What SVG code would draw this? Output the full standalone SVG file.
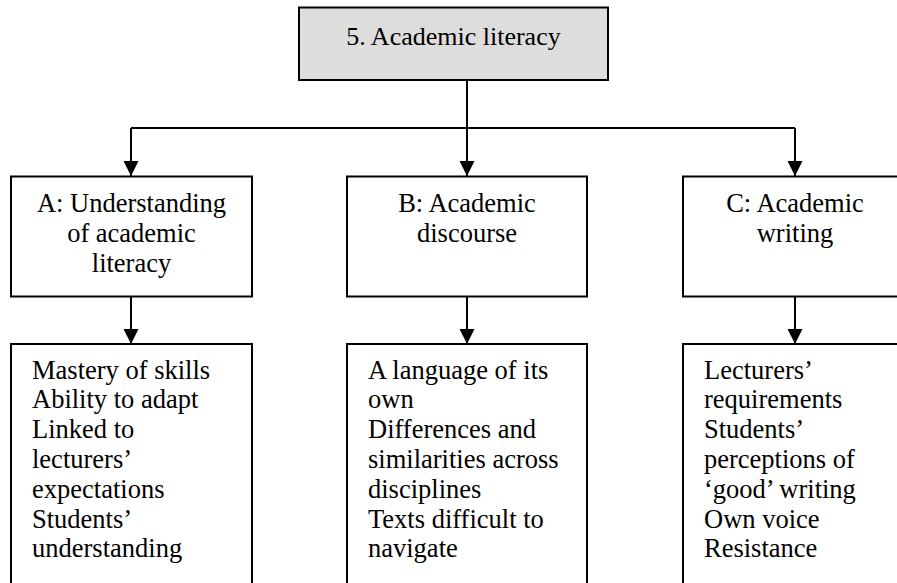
<svg xmlns="http://www.w3.org/2000/svg" width="897" height="583" viewBox="0 0 897 583">
<style>
.box{fill:#ffffff;stroke:#000000;stroke-width:2}
.top{fill:#dddddd;stroke:#000000;stroke-width:2}
.t{font-family:"Liberation Serif","Times New Roman",serif;font-size:26.5px;fill:#000000}
.c{text-anchor:middle}
.ln{fill:none;stroke:#000000;stroke-width:2}
</style>
<defs>
<marker id="ah" markerUnits="userSpaceOnUse" markerWidth="16" markerHeight="16" refX="15" refY="7.5" orient="auto">
<path d="M0,0 L15,7.5 L0,15 z" fill="#000000"/>
</marker>
</defs>
<rect width="897" height="583" fill="#ffffff"/>
<g id="connectors">
<path class="ln" d="M467,80 L467,128"/>
<path class="ln" d="M131,128 L795,128"/>
<path class="ln" d="M131,128 L131,176" marker-end="url(#ah)"/>
<path class="ln" d="M467,128 L467,176" marker-end="url(#ah)"/>
<path class="ln" d="M795,128 L795,176" marker-end="url(#ah)"/>
<path class="ln" d="M131,296 L131,344" marker-end="url(#ah)"/>
<path class="ln" d="M467,296 L467,344" marker-end="url(#ah)"/>
<path class="ln" d="M795,296 L795,344" marker-end="url(#ah)"/>
</g>
<g id="node-top">
<rect class="top" x="299" y="7.5" width="309" height="72.5"/>
<text class="t c" x="453.5" y="45" style="font-size:26px">5. Academic literacy</text>
</g>
<g id="node-A">
<rect class="box" x="11" y="176.5" width="241" height="120"/>
<text class="t c" x="131.5" y="212">A: Understanding</text>
<text class="t c" x="131.5" y="242">of academic</text>
<text class="t c" x="131.5" y="272">literacy</text>
</g>
<g id="node-B">
<rect class="box" x="347" y="176.5" width="240" height="120"/>
<text class="t c" x="467" y="212">B: Academic</text>
<text class="t c" x="467" y="242">discourse</text>
</g>
<g id="node-C">
<rect class="box" x="683" y="176.5" width="224" height="120"/>
<text class="t c" x="795" y="212">C: Academic</text>
<text class="t c" x="795" y="242">writing</text>
</g>
<g id="node-A-items">
<rect class="box" x="11" y="344" width="241" height="250"/>
<text class="t" x="32" y="378.5">Mastery of skills</text>
<text class="t" x="32" y="408.3">Ability to adapt</text>
<text class="t" x="32" y="438.1">Linked to</text>
<text class="t" x="32" y="467.9">lecturers’</text>
<text class="t" x="32" y="497.7">expectations</text>
<text class="t" x="32" y="527.5">Students’</text>
<text class="t" x="32" y="557.3">understanding</text>
</g>
<g id="node-B-items">
<rect class="box" x="347" y="344" width="240" height="250"/>
<text class="t" x="368" y="378.5">A language of its</text>
<text class="t" x="368" y="408.3">own</text>
<text class="t" x="368" y="438.1">Differences and</text>
<text class="t" x="368" y="467.9">similarities across</text>
<text class="t" x="368" y="497.7">disciplines</text>
<text class="t" x="368" y="527.5">Texts difficult to</text>
<text class="t" x="368" y="557.3">navigate</text>
</g>
<g id="node-C-items">
<rect class="box" x="683" y="344" width="224" height="250"/>
<text class="t" x="704" y="378.5">Lecturers’</text>
<text class="t" x="704" y="408.3">requirements</text>
<text class="t" x="704" y="438.1">Students’</text>
<text class="t" x="704" y="467.9">perceptions of</text>
<text class="t" x="704" y="497.7">‘good’ writing</text>
<text class="t" x="704" y="527.5">Own voice</text>
<text class="t" x="704" y="557.3">Resistance</text>
</g>
</svg>
